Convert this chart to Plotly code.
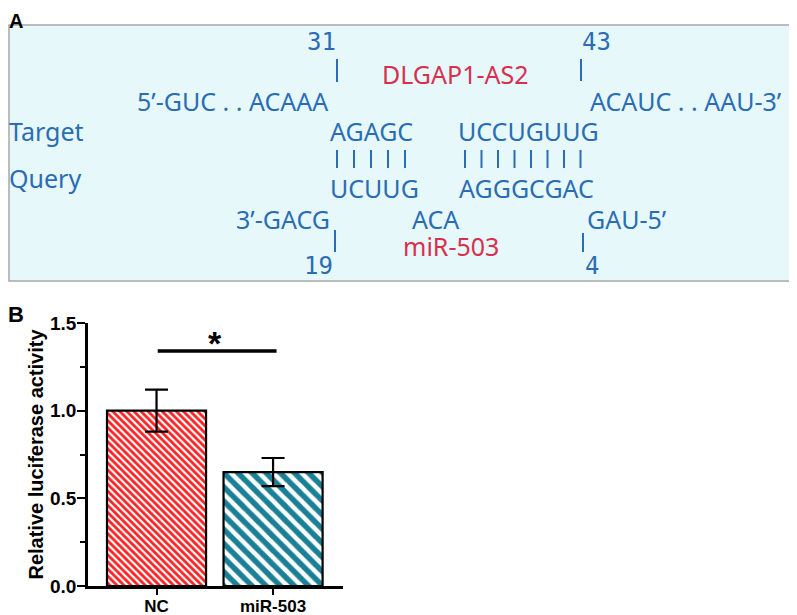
import plotly.graph_objects as go

W, H = 797, 615
# the page body keeps its default 8px margin, so the figure sits 8px right/down
OX, OY = 8, 8

# ---- panel A: DLGAP1-AS2 / miR-503 binding site ----
target_name = "DLGAP1-AS2"
query_name = "miR-503"
target_5p = "5’-GUC . . ACAAA"
target_3p = "ACAUC . . AAU-3’"
target_seed = ["AGAGC", "UCCUGUUG"]
query_seed = ["UCUUG", "AGGGCGAC"]
query_3p = "3’-GACG"
query_loop = "ACA"
query_5p = "GAU-5’"
target_pos = ["31", "43"]
query_pos = ["19", "4"]
n_pairs = [5, 8]

# ---- panel B: luciferase assay ----
groups = ["NC", "miR-503"]
means = [1.00, 0.65]
errs = [0.12, 0.08]
sig_level = 1.34
sig_mark = "*"

BLUE = "#2A6DB5"
RED = "#D7304F"


def px(x):
    return (x - OX) / W


def py(y):
    return 1 - (y - OY) / H


def label(text, x, y, color=BLUE, size=25, xanchor="left", family="Noto Sans", bold=False):
    if bold:
        text = f"<b>{text}</b>"
    # annotation boxes carry ~2px padding
    if xanchor == "left":
        x -= 2
    elif xanchor == "right":
        x += 2
    return dict(
        text=text, x=px(x), y=py(y), xref="paper", yref="paper",
        xanchor=xanchor, yanchor="middle", showarrow=False,
        font=dict(family=family, size=size, color=color),
    )


def vbar(x, y0, y1, color=BLUE, width=2):
    return dict(
        type="line", xref="paper", yref="paper",
        x0=px(x), x1=px(x), y0=py(y0), y1=py(y1),
        line=dict(color=color, width=width),
    )


fig = go.Figure()

fig.add_trace(
    go.Bar(
        x=groups,
        y=means,
        width=0.85,
        error_y=dict(type="data", array=errs, color="black", thickness=2.2, width=11.5),
        marker=dict(
            color="white",
            line=dict(color="black", width=2.2),
            pattern=dict(
                shape="\\",
                fgcolor=["#FF2020", "#1A8095"],
                fgopacity=1,
                bgcolor="white",
                size=[5, 10],
                solidity=[0.55, 0.55],
            ),
        ),
        showlegend=False,
    )
)

annotations = [
    dict(
        text="<b>A</b>", x=px(OX - 1), y=1.0, xref="paper", yref="paper",
        xanchor="left", yanchor="top", showarrow=False,
        font=dict(family="Liberation Sans", size=20, color="black"),
    ),
    label("B", 8, 314, color="black", size=22, family="Liberation Sans", bold=True),
    label(target_pos[0], 321, 42, xanchor="center", family="DejaVu Sans Mono", size=24),
    label(target_pos[1], 596, 42, xanchor="center", family="DejaVu Sans Mono", size=24),
    label(query_pos[0], 318, 266, xanchor="center", family="DejaVu Sans Mono", size=24),
    label(query_pos[1], 592, 266, xanchor="center", family="DejaVu Sans Mono", size=24),
    label(target_name, 455, 74, color=RED, xanchor="center"),
    label(target_5p, 328, 101, xanchor="right"),
    label(target_3p, 590, 101),
    label("Target", 9, 131),
    label(target_seed[0], 330, 131),
    label(target_seed[1], 458, 131),
    label("Query", 9, 178),
    label(query_seed[0], 330, 188),
    label(query_seed[1], 459, 188),
    label(query_3p, 330, 219, xanchor="right"),
    label(query_loop, 435, 219, xanchor="center"),
    label(query_5p, 587, 219),
    label(query_name, 451, 246, color=RED, xanchor="center"),
    dict(
        text=f"<b>{sig_mark}</b>", x=0.5, y=sig_level + 0.045, xref="x", yref="y",
        xanchor="center", yanchor="middle", showarrow=False,
        font=dict(family="Liberation Sans", size=34, color="black"),
    ),
]

shapes = [
    dict(
        type="rect", xref="paper", yref="paper", layer="below",
        x0=px(OX + 1), x1=px(795), y0=py(25), y1=py(281),
        fillcolor="#E6F8F9", line=dict(color="#A8A8A8", width=1.5),
    ),
    vbar(337, 59, 82),
    vbar(581, 59, 81),
    vbar(335, 230, 252),
    vbar(583, 233, 252),
    dict(
        type="line", xref="x", yref="y", x0=0.01, x1=1.03, y0=sig_level, y1=sig_level,
        line=dict(color="black", width=3.5),
    ),
]
for start, pitch, n in [(337, 17, n_pairs[0]), (465, 16.5, n_pairs[1])]:
    for i in range(n):
        shapes.append(vbar(start + i * pitch, 150, 168))

fig.update_layout(
    width=W,
    height=H,
    autosize=False,
    margin=dict(l=0, r=0, t=0, b=0, pad=0),
    paper_bgcolor="white",
    plot_bgcolor="white",
    font=dict(family="Liberation Sans", color="black"),
    annotations=annotations,
    shapes=shapes,
    xaxis=dict(
        domain=[px(88), px(343)],
        type="category",
        range=[-0.588, 1.6],
        automargin=False,
        showline=True, linecolor="black", linewidth=2.5,
        ticks="outside", ticklen=6, tickwidth=2, tickcolor="black",
        tickfont=dict(size=17, family="Liberation Sans", weight="bold"),
        ticklabelstandoff=-3,
        showgrid=False, zeroline=False,
    ),
    yaxis=dict(
        domain=[py(586), py(323)],
        range=[0, 1.5],
        dtick=0.5,
        tickformat=".1f",
        automargin=False,
        showline=True, linecolor="black", linewidth=2.5,
        ticks="outside", ticklen=8, tickwidth=2, tickcolor="black",
        minor=dict(dtick=0.25, ticklen=5, tickwidth=2, tickcolor="black", ticks="outside"),
        tickfont=dict(size=19, family="Liberation Sans", weight="bold"),
        ticklabelstandoff=-3,
        title=dict(
            text="<b>Relative luciferase activity</b>",
            font=dict(size=20, family="Liberation Sans"),
            standoff=2,
        ),
        showgrid=False, zeroline=False,
    ),
)

fig.write_html("out.html")
